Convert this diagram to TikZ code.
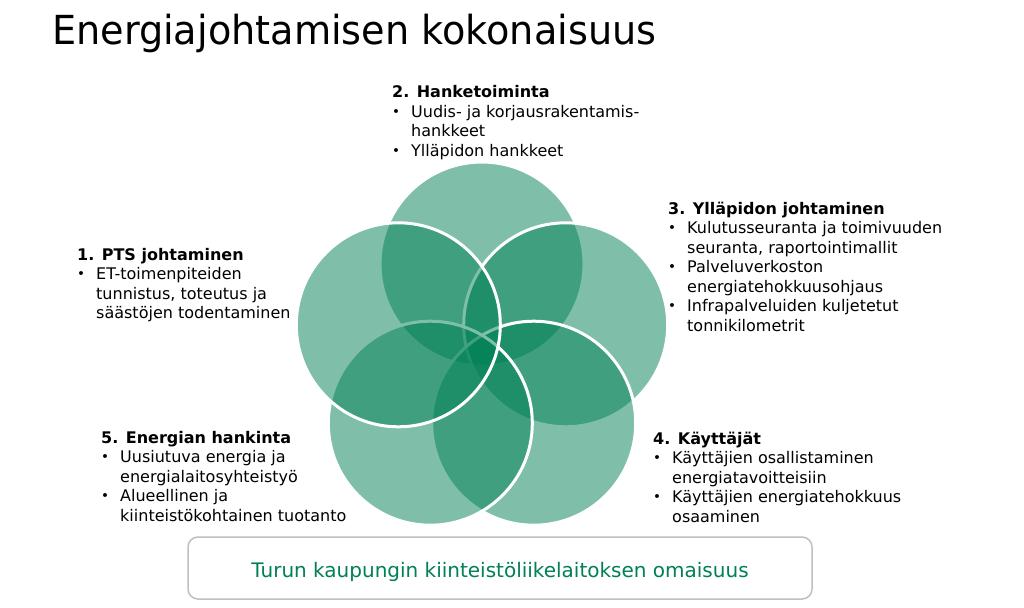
\documentclass[tikz,border=0pt]{standalone}
\usepackage{fontspec}
\setmainfont{DejaVu Sans}

\definecolor{vgreen}{RGB}{0,128,85}
\newcommand{\bl}{\makebox[19pt][l]{\raisebox{0.6pt}{\fontsize{13.5}{13.5}\selectfont •}}}
\newcommand{\ind}{\hspace*{19pt}}

\begin{document}
\begin{tikzpicture}[
  x=1pt,y=-1pt,
  ring/.style={circle,minimum size=204pt,inner sep=0pt,fill=vgreen,fill opacity=0.5,draw=white,line width=3pt},
  blk/.style={anchor=base west,inner sep=0pt,font=\fontsize{16}{19.5}\selectfont},
  ttl/.style={anchor=base west,inner sep=0pt,font=\fontsize{40}{48}\selectfont},
  omabox/.style={draw=black!25,line width=1.5pt,rounded corners=10pt,fill=white,
    minimum width=624pt,minimum height=62pt,inner sep=0pt,text=vgreen,
    text height=20pt,text depth=2pt,font=\fontsize{20}{24}\selectfont}
]
\useasboundingbox (0,0) rectangle (1024,607);
\node[ttl] (titl) at (52,45) {\scalebox{0.955}[1]{Energiajohtamisen kokonaisuus}};

% circles, top first, left last
\node[ring] (c2) at (482,264)   {};
\node[ring] (c3) at (565.7,324.8) {};
\node[ring] (c4) at (533.7,423.2) {};
\node[ring] (c5) at (430.3,423.2) {};
\node[ring] (c1) at (398.3,324.8) {};

\node[blk] (pts) at (77,260) {\begin{tabular}[t]{@{}l@{}}
\textbf{1. PTS johtaminen}\\
\bl ET-toimenpiteiden\\
\ind tunnistus, toteutus ja\\
\ind säästöjen todentaminen
\end{tabular}};
\node[blk] (hanke) at (392,98) {\begin{tabular}[t]{@{}l@{}}
\textbf{2. Hanketoiminta}\\
\bl Uudis- ja korjausrakentamis-\\
\ind hankkeet\\
\bl Ylläpidon hankkeet
\end{tabular}};
\node[blk] (yllap) at (668,214) {\begin{tabular}[t]{@{}l@{}}
\textbf{3. Ylläpidon johtaminen}\\
\bl Kulutusseuranta ja toimivuuden\\
\ind seuranta, raportointimallit\\
\bl Palveluverkoston\\
\ind energiatehokkuusohjaus\\
\bl Infrapalveluiden kuljetetut\\
\ind tonnikilometrit
\end{tabular}};
\node[blk] (kayt) at (653,444) {\begin{tabular}[t]{@{}l@{}}
\textbf{4. Käyttäjät}\\
\bl Käyttäjien osallistaminen\\
\ind energiatavoitteisiin\\
\bl Käyttäjien energiatehokkuus\\
\ind osaaminen
\end{tabular}};
\node[blk] (hank) at (101,443) {\begin{tabular}[t]{@{}l@{}}
\textbf{5. Energian hankinta}\\
\bl Uusiutuva energia ja\\
\ind energialaitosyhteistyö\\
\bl Alueellinen ja\\
\ind kiinteistökohtainen tuotanto
\end{tabular}};

\node[omabox] (omai) at (500,568) {Turun kaupungin kiinteistöliikelaitoksen omaisuus};
\end{tikzpicture}
\end{document}
